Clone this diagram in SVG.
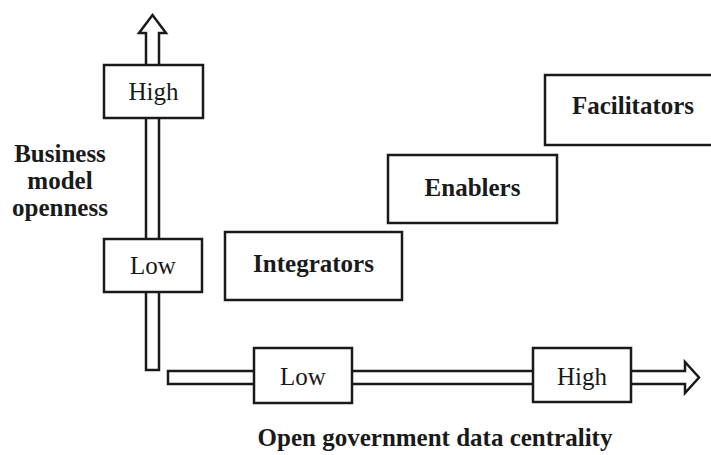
<svg xmlns="http://www.w3.org/2000/svg" width="711" height="455" viewBox="0 0 711 455">
  <style>
    .arrow { fill: #fff; stroke: #1a1a1a; stroke-width: 2.5; stroke-linejoin: miter; }
    .box { fill: #fff; stroke: #1a1a1a; stroke-width: 2.5; }
    .lbl { font-family: "Liberation Serif", "Times New Roman", serif; font-size: 25px; fill: #1a1a1a; text-anchor: middle; }
    .bold { font-weight: bold; }
  </style>
  <rect width="711" height="455" fill="#fff"/>

  <!-- axes drawn as hollow block arrows -->
  <g id="connectors">
    <path id="axis-y" class="arrow" d="M146,370 L146,33 L139,33 L152.5,15 L166,33 L159,33 L159,370 Z"/>
    <path id="axis-x" class="arrow" d="M168,371 L685,371 L685,362 L699,377.5 L685,393 L685,384 L168,384 Z"/>
  </g>

  <!-- scale markers on the vertical axis -->
  <g id="y-high">
    <rect class="box" x="104" y="65" width="99" height="53"/>
    <text class="lbl" x="153.5" y="100">High</text>
  </g>
  <g id="y-low">
    <rect class="box" x="104" y="239" width="98" height="53"/>
    <text class="lbl" x="153" y="274">Low</text>
  </g>

  <!-- scale markers on the horizontal axis -->
  <g id="x-low">
    <rect class="box" x="254" y="348" width="98" height="55"/>
    <text class="lbl" x="303" y="385">Low</text>
  </g>
  <g id="x-high">
    <rect class="box" x="533" y="348" width="98" height="54"/>
    <text class="lbl" x="582" y="385">High</text>
  </g>

  <!-- business model categories -->
  <g id="integrators">
    <rect class="box" x="225" y="232" width="177" height="68"/>
    <text class="lbl bold" x="313.5" y="272">Integrators</text>
  </g>
  <g id="enablers">
    <rect class="box" x="388" y="155" width="169" height="68"/>
    <text class="lbl bold" x="472.5" y="196">Enablers</text>
  </g>
  <g id="facilitators">
    <rect class="box" x="545" y="75" width="180" height="70"/>
    <text class="lbl bold" x="633" y="114">Facilitators</text>
  </g>

  <!-- axis titles -->
  <g id="y-title">
    <text class="lbl bold" x="60" y="162">Business</text>
    <text class="lbl bold" x="60" y="189">model</text>
    <text class="lbl bold" x="60" y="216">openness</text>
  </g>
  <g id="x-title">
    <text class="lbl bold" x="435" y="446">Open government data centrality</text>
  </g>
</svg>
